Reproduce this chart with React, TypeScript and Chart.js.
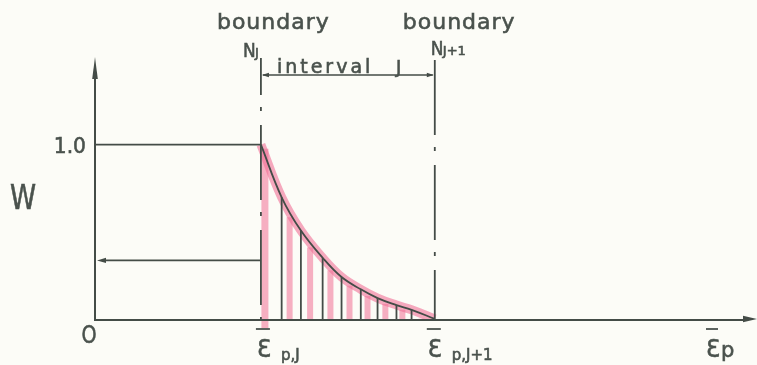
import { useEffect, useRef } from "react";
import { Chart, registerables } from "chart.js";

Chart.register(...registerables);

// Equivalent plastic strain at the sampling points inside interval J
const strainPoints = [1.0, 1.125, 1.241, 1.372, 1.486, 1.602, 1.703, 1.817, 1.908, 2.048];
// Weight W at each sampling point (1.0 at boundary N_J, fading to 0 at N_J+1)
const weights = [1.0, 0.7, 0.51, 0.355, 0.245, 0.175, 0.125, 0.085, 0.058, 0.006];
// Strain at the two interval boundaries and their names
const boundaryStrains = [1.0, 2.048];
const boundaryNames = ["J", "J+1"];
// Reference weight levels marked on the W axis
const unitWeight = 1.0;
const readWeight = 0.34;
const unitTickLabel = "1.0";
const originLabel = "O";
const xRange = [0, 3.99];
const yRange = [0, 1.5];

const ink = "#444c47";
const textInk = "#4a524d";
const pink = "rgba(240, 112, 150, 0.6)";
const pinkHatch = "rgba(240, 112, 150, 0.55)";
const paper = "#fcfcf7";
const FONT = '"DejaVu Sans", sans-serif';

type LabelOpts = { align?: CanvasTextAlign; baseline?: CanvasTextBaseline; spacing?: number; sx?: number };

function label(ctx: CanvasRenderingContext2D, s: string, x: number, y: number, size: number, o: LabelOpts = {}) {
  ctx.save();
  ctx.font = `${size}px ${FONT}`;
  ctx.fillStyle = textInk;
  ctx.strokeStyle = textInk;
  ctx.lineWidth = 0.6;
  ctx.textAlign = o.align ?? "left";
  ctx.textBaseline = o.baseline ?? "alphabetic";
  (ctx as any).letterSpacing = `${o.spacing ?? 0}px`;
  ctx.translate(x, y);
  ctx.scale(o.sx ?? 1, 1);
  ctx.fillText(s, 0, 0);
  ctx.strokeText(s, 0, 0);
  ctx.restore();
}

function line(ctx: CanvasRenderingContext2D, x1: number, y1: number, x2: number, y2: number, w = 1.8, color = ink) {
  ctx.save();
  ctx.strokeStyle = color;
  ctx.lineWidth = w;
  ctx.beginPath();
  ctx.moveTo(x1, y1);
  ctx.lineTo(x2, y2);
  ctx.stroke();
  ctx.restore();
}

// filled arrowhead with its tip at (tx, ty) pointing along (dx, dy)
function arrowHead(ctx: CanvasRenderingContext2D, tx: number, ty: number, dx: number, dy: number, len: number, half: number) {
  const bx = tx - dx * len;
  const by = ty - dy * len;
  ctx.save();
  ctx.fillStyle = ink;
  ctx.beginPath();
  ctx.moveTo(tx, ty);
  ctx.lineTo(bx - dy * half, by + dx * half);
  ctx.lineTo(bx + dy * half, by - dx * half);
  ctx.closePath();
  ctx.fill();
  ctx.restore();
}

// barred strain symbol with a subscript, e.g. ε̄p,J
function strainLabel(ctx: CanvasRenderingContext2D, x: number, sub: string, subSize: number, subGap: number) {
  line(ctx, x - 1, 329, x + 13, 329, 1.8, textInk);
  label(ctx, "Ɛ", x, 357, 24, { sx: 0.95 });
  label(ctx, sub, x + subGap, 360, subSize);
}

const diagramPlugin = {
  id: "diagram",
  beforeDraw(chart: Chart) {
    const ctx = chart.ctx;
    ctx.save();
    ctx.fillStyle = paper;
    ctx.fillRect(0, 0, chart.width, chart.height);
    ctx.restore();
  },
  beforeDatasetsDraw(chart: Chart) {
    const ctx = chart.ctx;
    const xs = chart.scales.x;
    const ys = chart.scales.y;
    const y0 = ys.getPixelForValue(0);
    const xJ = xs.getPixelForValue(boundaryStrains[0]);
    // pink shading: strip along boundary N_J and hatching between the sampling lines
    line(ctx, xJ + 4, ys.getPixelForValue(unitWeight) + 4, xJ + 4, y0 + 8, 7, pinkHatch);
    for (let i = 1; i < strainPoints.length - 1; i++) {
      const xm = xs.getPixelForValue((strainPoints[i] + strainPoints[i + 1]) / 2 - 0.01);
      const wm = Math.sqrt(weights[i] * weights[i + 1]);
      line(ctx, xm, ys.getPixelForValue(wm) + 2, xm, y0, 6, pinkHatch);
    }
  },
  afterDatasetsDraw(chart: Chart) {
    const ctx = chart.ctx;
    const xs = chart.scales.x;
    const ys = chart.scales.y;
    const x0 = xs.getPixelForValue(0);
    const y0 = ys.getPixelForValue(0);
    const xEnd = chart.chartArea.right;
    const yTop = chart.chartArea.top;
    const xJ = xs.getPixelForValue(boundaryStrains[0]);
    const xJ1 = xs.getPixelForValue(boundaryStrains[1]);
    const y1 = ys.getPixelForValue(unitWeight);
    const yr = ys.getPixelForValue(readWeight);

    // vertical hatch lines from the curve down to the strain axis
    for (let i = 1; i < strainPoints.length; i++) {
      if (weights[i] < 0.02) continue;
      const x = xs.getPixelForValue(strainPoints[i]);
      line(ctx, x, ys.getPixelForValue(weights[i]), x, y0, 1.8);
    }

    // axes with arrows
    line(ctx, x0, y0 + 1, x0, yTop + 14, 2);
    arrowHead(ctx, x0, yTop, 0, -1, 22, 2.8);
    line(ctx, x0 - 1, y0, xEnd - 10, y0, 2);
    arrowHead(ctx, xEnd, y0 - 1, 1, 0, 14, 3.2);

    // W = 1.0 level and the read-off arrow
    line(ctx, x0, y1, xJ, y1, 1.8);
    line(ctx, xJ, yr, x0 + 8, yr, 1.8);
    arrowHead(ctx, x0 + 2, yr, -1, 0, 9, 2.6);

    // boundary lines (dash-dot)
    ctx.save();
    ctx.strokeStyle = ink;
    ctx.lineWidth = 1.8;
    ctx.setLineDash([75, 12, 4, 14]);
    ctx.lineDashOffset = 38;
    ctx.beginPath();
    ctx.moveTo(xJ, 58);
    ctx.lineTo(xJ, y0);
    ctx.stroke();
    ctx.lineDashOffset = 0;
    ctx.beginPath();
    ctx.moveTo(xJ1, 60);
    ctx.lineTo(xJ1, y0);
    ctx.stroke();
    ctx.restore();

    // interval J dimension line
    line(ctx, xJ + 2, 75, xJ1 - 2, 75, 1.5);
    arrowHead(ctx, xJ + 1, 75, -1, 0, 7, 2.2);
    arrowHead(ctx, xJ1 - 1, 75, 1, 0, 7, 2.2);
    label(ctx, "interval", xJ + 16, 73, 19, { spacing: 3 });
    label(ctx, boundaryNames[0], xJ + 135, 73, 18);

    // boundary captions
    label(ctx, "boundary", xJ - 44, 29, 22, { spacing: 1 });
    label(ctx, "boundary", xJ1 - 32, 29, 22, { spacing: 1 });
    label(ctx, "N", xJ - 18, 57, 20, { sx: 0.85 });
    label(ctx, boundaryNames[0], xJ - 6, 57, 13);
    label(ctx, "N", xJ1 - 4, 55, 20, { sx: 0.85 });
    label(ctx, boundaryNames[1], xJ1 + 8, 55, 13);

    // axis texts
    label(ctx, unitTickLabel, x0 - 9, y1 + 3, 22, { align: "right", baseline: "middle", sx: 0.92 });
    label(ctx, "W", 23, 200, 33, { align: "center", baseline: "middle", sx: 0.8 });
    label(ctx, originLabel, x0 - 6, 337, 24, { align: "center", baseline: "middle", sx: 0.8 });

    strainLabel(ctx, xJ - 4, "p,J", 15, 24);
    strainLabel(ctx, xJ1 - 7, "p,J+1", 15, 24);
    line(ctx, 706, 329, 718, 329, 1.8, textInk);
    label(ctx, "Ɛ", 706, 357, 24, { sx: 0.95 });
    label(ctx, "p", 721, 357, 21);
  },
};

export default function App() {
  const ref = useRef<HTMLCanvasElement>(null);

  useEffect(() => {
    document.body.style.margin = "0";
    document.body.style.background = paper;
    const points = strainPoints.map((x, i) => ({ x, y: weights[i] }));
    const chart = new Chart(ref.current!, {
      type: "line",
      data: {
        datasets: [
          {
            label: "W",
            data: points,
            borderColor: ink,
            borderWidth: 1.8,
            pointRadius: 0,
            tension: 0.4,
            order: 0,
          },
          {
            label: "W shading",
            data: points,
            borderColor: pink,
            borderWidth: 9,
            pointRadius: 0,
            tension: 0.4,
            order: 1,
          },
        ],
      },
      options: {
        responsive: false,
        animation: false,
        devicePixelRatio: 1,
        events: [],
        layout: { padding: { left: 95, right: 0, top: 57, bottom: 45 } },
        scales: {
          x: { type: "linear", min: xRange[0], max: xRange[1], display: false },
          y: { type: "linear", min: yRange[0], max: yRange[1], display: false },
        },
        plugins: { legend: { display: false }, tooltip: { enabled: false } },
      },
      plugins: [diagramPlugin],
    });
    return () => chart.destroy();
  }, []);

  return (
    <div style={{ position: "fixed", left: 0, top: 0, width: 757, height: 365 }}>
      <canvas ref={ref} width={757} height={365} style={{ display: "block", width: 757, height: 365 }} />
    </div>
  );
}
